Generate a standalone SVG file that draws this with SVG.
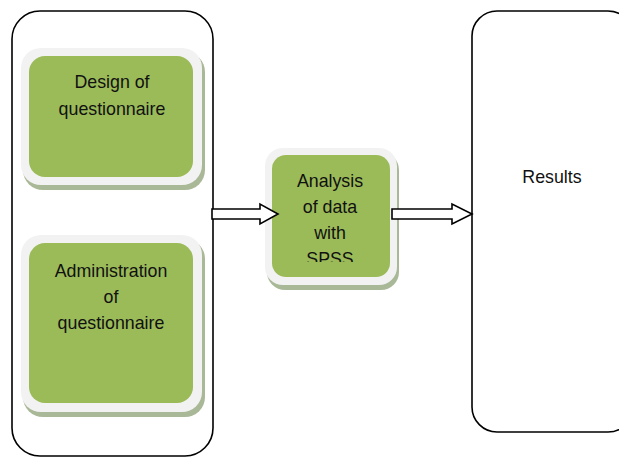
<svg xmlns="http://www.w3.org/2000/svg" width="619" height="457" viewBox="0 0 619 457">
<defs>
<style>
.box{fill:#ffffff;stroke:#000;stroke-width:1.6}
.shadow{fill:#a9b897}
.frame{fill:#f2f2f2}
.green{fill:#9bbb59}
.t{font-family:"Liberation Sans",Arial,sans-serif;font-size:17.8px;fill:#111;text-anchor:middle}
.arrow{fill:#fff;stroke:#000;stroke-width:1.6;stroke-linejoin:miter}
</style>
<clipPath id="midclip"><rect x="272" y="155" width="118" height="107"/></clipPath>
</defs>
<rect width="619" height="457" fill="#fff"/>
<g id="collection">
<rect class="box" x="12" y="11" width="201" height="445" rx="28" ry="28"/>
</g>
<g id="design">
<rect class="shadow" x="23" y="52" width="182" height="138" rx="20"/>
<rect class="frame" x="21" y="48" width="181" height="137" rx="20"/>
<rect class="green" x="29" y="56" width="164" height="121" rx="16"/>
<text class="t" x="112" y="88">Design of</text>
<text class="t" x="112" y="115">questionnaire</text>
</g>
<g id="administration">
<rect class="shadow" x="23" y="239" width="182" height="178" rx="20"/>
<rect class="frame" x="21" y="235" width="181" height="177" rx="20"/>
<rect class="green" x="29" y="243" width="164" height="160" rx="16"/>
<text class="t" x="111" y="277">Administration</text>
<text class="t" x="111" y="303">of</text>
<text class="t" x="111" y="329">questionnaire</text>
</g>
<g id="analysis">
<rect class="shadow" x="267" y="152" width="132" height="138" rx="18"/>
<rect class="frame" x="265" y="148" width="132" height="137" rx="18"/>
<rect class="green" x="272" y="155" width="118" height="122" rx="14"/>
<g clip-path="url(#midclip)">
<text class="t" x="330" y="187">Analysis</text>
<text class="t" x="330" y="213">of data</text>
<text class="t" x="330" y="239">with</text>
<text class="t" x="330" y="265">SPSS</text>
</g>
</g>
<g id="results">
<rect class="box" x="472" y="11" width="161" height="421" rx="25" ry="25"/>
<text class="t" x="552" y="183">Results</text>
</g>
<g id="connectors">
<polygon class="arrow" points="212,209 260,209 260,204 278,214 260,224 260,219 212,219"/>
<polygon class="arrow" points="392,209 452,209 452,204 472,214 452,224 452,219 392,219"/>
</g>
</svg>
